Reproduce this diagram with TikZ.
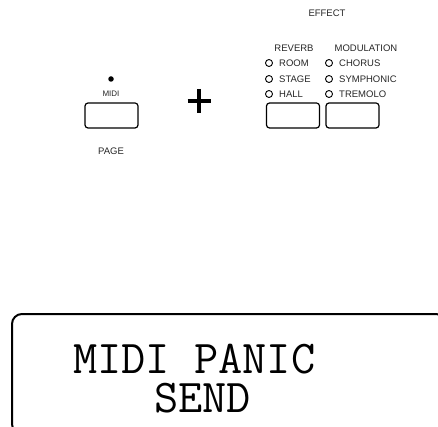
\documentclass[tikz,border=0pt]{standalone}
\usepackage{fontspec}
\setmainfont{Liberation Sans}
\usetikzlibrary{positioning,calc}
\tikzset{
  boton/.style={draw, line width=1.2pt, rounded corners=3pt, minimum width=53pt, minimum height=25pt, inner sep=0pt},
  led/.style={draw, circle, minimum size=7pt, inner sep=0pt, line width=0.9pt},
  rotulo/.style={font=\fontsize{9.5}{11}\selectfont, text=black!85, inner sep=0pt},
  pantalla/.style={font=\ttfamily\fontsize{47}{39}\selectfont, inner sep=0pt, align=left, anchor=north west},
}

\begin{document}
\begin{tikzpicture}[x=1pt, y=-1pt]
  \useasboundingbox (0,0) rectangle (438,427);
  % panel
  \node[rotulo] (effect) at (327,13) {EFFECT};
  \node[rotulo] (reverb) at (294,48) {REVERB};
  \node[rotulo] (modulation) at (366,48) {MODULATION};
  \foreach \y/\izq/\der in {63/ROOM/CHORUS, 79/STAGE/SYMPHONIC, 94/HALL/TREMOLO}{
    \node[led] (ledA\y) at (269,\y) {};
    \node[rotulo, anchor=west] (txtA\y) at (279,\y) {\izq};
    \node[led] (ledB\y) at (329,\y) {};
    \node[rotulo, anchor=west] (txtB\y) at (339,\y) {\der};
  }
  \node[circle, fill, minimum size=5.5pt, inner sep=0pt] (ledmidi) at (111,79) {};
  \node[rotulo, font=\fontsize{8}{9}\selectfont] (midi) at (111,94) {MIDI};
  \node[boton] (btnmidi) at (111.5,115.5) {};
  \node[boton] (btnreverb) at (293,115.5) {};
  \node[boton] (btnmod) at (352.5,115.5) {};
  \node[rotulo] (page) at (111,151) {PAGE};
  % signo mas
  \coordinate (mas) at (199,101);
  \draw[line width=4pt] ($(mas)+(-11.5,0)$) -- ($(mas)+(11.5,0)$);
  \draw[line width=4pt] ($(mas)+(0,-12)$) -- ($(mas)+(0,12)$);
  % pantalla
  \begin{scope}
    \clip (0,0) rectangle (438,427);
    \draw[line width=2pt, rounded corners=10pt] (12,314) rectangle (446,434);
  \end{scope}
  \node[pantalla] (panic) at (73,344) {MIDI PANIC\\\hspace*{81pt}SEND};
\end{tikzpicture}
\end{document}
